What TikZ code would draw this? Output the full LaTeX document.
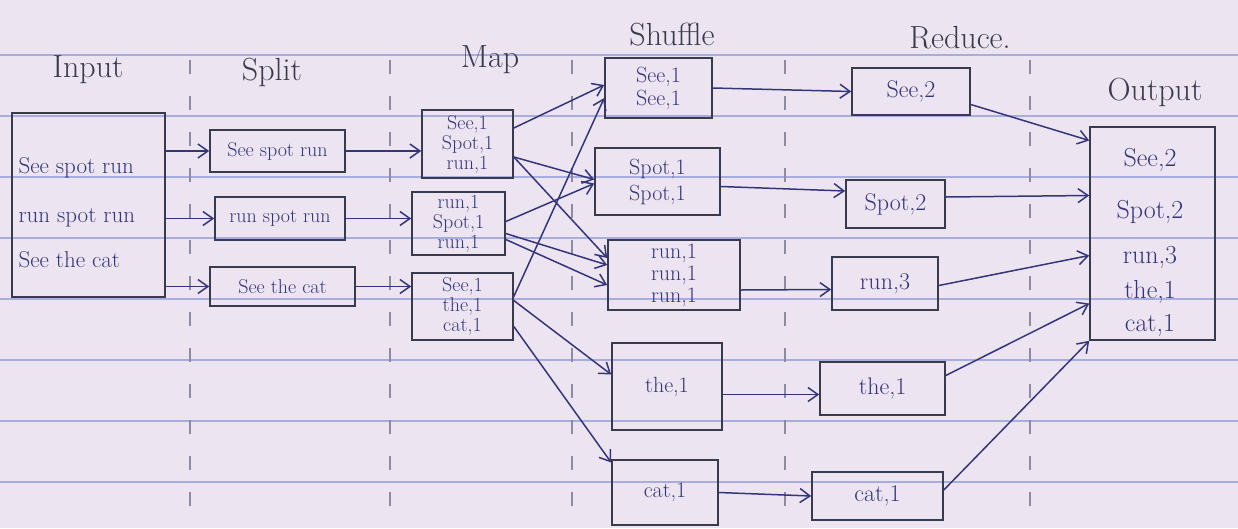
\documentclass[tikz,border=0pt]{standalone}
\usetikzlibrary{arrows.meta,calc}
\definecolor{paper}{HTML}{EDE4F1}
\definecolor{rule}{HTML}{A7AEDD}
\definecolor{sep}{HTML}{8E8AA0}
\definecolor{ink}{HTML}{3A3A4E}
\definecolor{blueink}{HTML}{35357A}
\begin{document}
\begin{tikzpicture}[x=1pt,y=-1pt,
  boxs/.style={draw=ink,line width=1.6pt,inner sep=0pt,align=center,text=blueink,
    font=\fontsize{20}{20}\selectfont},
  big/.style={font=\fontsize{24}{26}\selectfont},
  hdr/.style={text=ink,font=\fontsize{32}{36}\selectfont},
  txt/.style={text=blueink,font=\fontsize{23}{26}\selectfont},
  otxt/.style={text=blueink,font=\fontsize{26}{28}\selectfont},
  arr/.style={draw=blueink,line width=1.5pt,-{Straight Barb[length=10pt,width=14pt]}}]
\path[use as bounding box,fill=paper] (0,0) rectangle (1238,528);
% ruled paper
\foreach \yy in {55,116,177,238,299,360,421,482}
  \draw[rule,line width=1.1pt] (0,\yy) -- (1238,\yy);
% column separators
\foreach \xx in {190,390,572,785,1030}
  \draw[sep,line width=1.1pt,dash pattern=on 14pt off 22pt] (\xx,60) -- (\xx,525);
% headers
\node[hdr] (hin) at (88,70) {Input};
\node[hdr] (hsp) at (272,72) {Split};
\node[hdr] (hmp) at (490,60) {Map};
\node[hdr] (hsh) at (672,35) {Shuffle};
\node[hdr] (hrd) at (960,38) {Reduce.};
\node[hdr] (hou) at (1155,92) {Output};
% input
\node[boxs,minimum width=153pt,minimum height=184pt] (in) at (88.5,205) {};
\node[txt,anchor=west] (i1) at (15,168) {See spot run};
\node[txt,anchor=west] (i2) at (15,218) {run spot run};
\node[txt,anchor=west] (i3) at (15,260) {See the cat};
% split
\node[boxs,minimum width=135pt,minimum height=42pt] (s1) at (277.5,151) {See spot run};
\node[boxs,minimum width=130pt,minimum height=43pt] (s2) at (280,218.5) {run spot run};
\node[boxs,minimum width=145pt,minimum height=39pt] (s3) at (282.5,286.5) {See the cat};
% map
\node[boxs,minimum width=91pt,minimum height=68pt] (m1) at (467.5,144) {See,1\\Spot,1\\run,1};
\node[boxs,minimum width=93pt,minimum height=63pt] (m2) at (458.5,223.5) {run,1\\Spot,1\\run,1};
\node[boxs,minimum width=101pt,minimum height=67pt] (m3) at (462.5,306.5) {See,1\\the,1\\cat,1};
% shuffle
\node[boxs,font=\fontsize{22}{23}\selectfont,minimum width=107pt,minimum height=60pt] (sh1) at (658.5,88) {See,1\\See,1};
\node[boxs,font=\fontsize{22}{26}\selectfont,minimum width=125pt,minimum height=67pt] (sh2) at (657.5,181.5) {Spot,1\\Spot,1};
\node[boxs,font=\fontsize{22}{22}\selectfont,minimum width=132pt,minimum height=70pt] (sh3) at (674,275) {run,1\\run,1\\run,1};
\node[boxs,font=\fontsize{22}{23}\selectfont,minimum width=110pt,minimum height=87pt] (sh4) at (667,386.5) {the,1};
\node[boxs,font=\fontsize{22}{23}\selectfont,minimum width=106pt,minimum height=65pt] (sh5) at (665,492.5) {cat,1};
% reduce
\node[boxs,big,minimum width=118pt,minimum height=47pt] (r1) at (911,91.5) {See,2};
\node[boxs,big,minimum width=99pt,minimum height=48pt] (r2) at (895.5,204) {Spot,2};
\node[boxs,big,minimum width=106pt,minimum height=53pt] (r3) at (885,283.5) {run,3};
\node[boxs,big,minimum width=125pt,minimum height=53pt] (r4) at (882.5,388.5) {the,1};
\node[boxs,big,minimum width=131pt,minimum height=48pt] (r5) at (877.5,496) {cat,1};
% output
\node[boxs,minimum width=125pt,minimum height=213pt] (out) at (1152.5,233.5) {};
\node[otxt] (o1) at (1150,160) {See,2};
\node[otxt] (o2) at (1150,212) {Spot,2};
\node[otxt] (o3) at (1150,257) {run,3};
\node[otxt] (o4) at (1150,292) {the,1};
\node[otxt] (o5) at (1150,325) {cat,1};
% input -> split
\draw[arr] (in.east |- s1.west) -- (s1.west);
\draw[arr] (in.east |- s2.west) -- (s2.west);
\draw[arr] (in.east |- s3.west) -- (s3.west);
% split -> map
\draw[arr] (s1.east) -- (m1.west |- s1.east);
\draw[arr] (s2.east) -- (m2.west |- s2.east);
\draw[arr] (s3.east) -- (m3.west |- s3.east);
% map -> shuffle
\draw[arr] ($(m1.east)+(0,-16)$) -- ($(sh1.west)+(0,-3)$);
\draw[arr] ($(m1.east)+(0,13)$) -- ($(sh2.west)+(0,-2)$);
\draw[arr] ($(m1.east)+(0,13)$) -- ($(sh3.west)+(0,-17)$);
\draw[arr] ($(m2.east)+(0,-2)$) -- ($(sh2.west)+(0,2)$);
\draw[arr] ($(m2.east)+(0,10)$) -- ($(sh3.west)+(0,-10)$);
\draw[arr] ($(m2.east)+(0,16)$) -- ($(sh3.west)+(0,10)$);
\draw[arr] ($(m3.east)+(0,-10)$) -- ($(sh1.west)+(0,10)$);
\draw[arr] ($(m3.east)+(0,-6)$) -- ($(sh4.west)+(0,-12)$);
\draw[arr] ($(m3.east)+(0,20)$) -- ($(sh5.west)+(0,-30)$);
% shuffle -> reduce
\draw[arr] (sh1.east) -- (r1.west);
\draw[arr] ($(sh2.east)+(0,5)$) -- ($(r2.west)+(0,-13)$);
\draw[arr] ($(sh3.east)+(0,15)$) -- ($(r3.west)+(0,6)$);
\draw[arr] ($(sh4.east)+(0,8)$) -- ($(r4.west)+(0,6)$);
\draw[arr] (sh5.east) -- (r5.west);
% reduce -> output
\draw[arr] ($(r1.east)+(0,13)$) -- ($(out.west)+(0,-93)$);
\draw[arr] ($(r2.east)+(0,-7)$) -- ($(out.west)+(0,-38)$);
\draw[arr] ($(r3.east)+(0,2)$) -- ($(out.west)+(0,22)$);
\draw[arr] ($(r4.east)+(0,-13)$) -- ($(out.west)+(0,70)$);
\draw[arr] ($(r5.east)+(0,-6)$) -- (out.south west);
\end{tikzpicture}
\end{document}
